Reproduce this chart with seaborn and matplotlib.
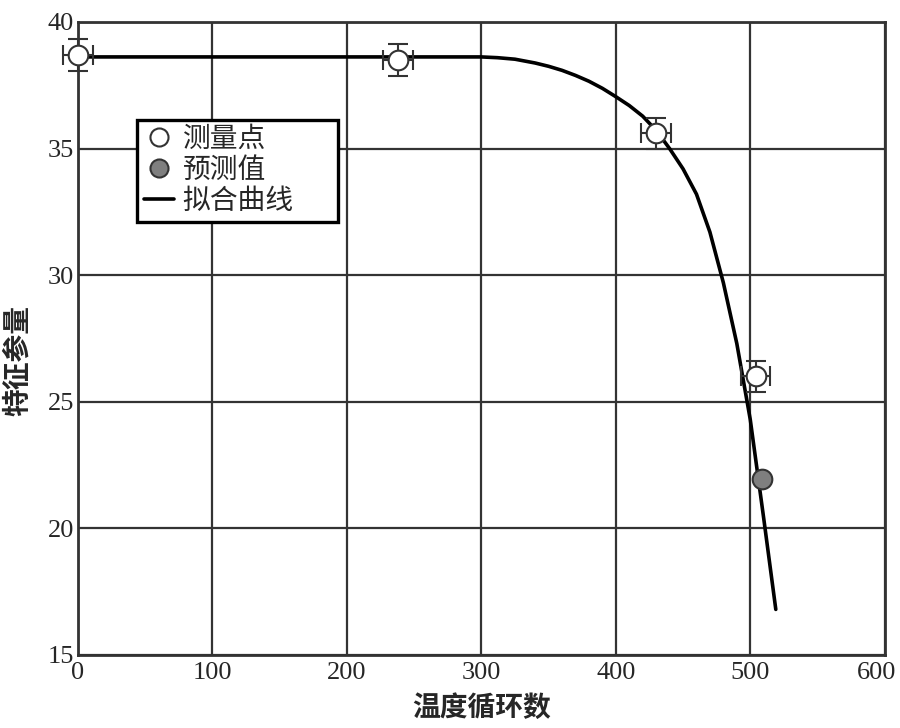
import numpy as np
import pandas as pd
import matplotlib
matplotlib.use("Agg")
import matplotlib.pyplot as plt
import matplotlib.transforms as mtransforms
import seaborn as sns
from matplotlib.lines import Line2D

# measured points
meas_x = [0, 238, 430, 504]
meas_y = [38.7, 38.5, 35.6, 26.0]
meas_xerr = [11, 11, 11, 11]
meas_yerr = [0.62, 0.62, 0.62, 0.62]

# predicted point
pred_x = [508.5]
pred_y = [21.95]

# fitted curve samples
fit_x = [0, 300, 312, 325, 340, 350, 360, 370, 380, 390, 400, 410, 420, 430, 440,
         450, 460, 470, 480, 490, 500, 510, 519]
fit_y = [38.62, 38.62, 38.59, 38.53, 38.38, 38.25, 38.09, 37.89, 37.66, 37.38, 37.05,
         36.7, 36.28, 35.72, 35.0, 34.2, 33.2, 31.7, 29.7, 27.3, 24.3, 20.4, 16.8]

xticks = [0, 100, 200, 300, 400, 500, 600]
yticks = [15, 20, 25, 30, 35, 40]

sns.set_theme(style="white")
plt.rcParams['font.family'] = ['Liberation Serif', 'Noto Sans CJK SC']
plt.rcParams['axes.unicode_minus'] = False

fig = plt.figure(figsize=(9, 7.28), dpi=100)
ax = fig.add_axes([0.0867, 0.1003, 0.8963, 0.8695])

fit_df = pd.DataFrame({"x": fit_x, "y": fit_y})
sns.lineplot(data=fit_df, x="x", y="y", ax=ax, color="black", linewidth=2.6,
             estimator=None, sort=False, zorder=3)

eb = ax.errorbar(meas_x, meas_y, xerr=meas_xerr, yerr=meas_yerr, fmt="none",
                 ecolor="#333333", elinewidth=1.5, capsize=7, capthick=1.5, zorder=4)
for part in eb.lines:
    for art in (part if isinstance(part, (tuple, list)) else [part]):
        if art is not None:
            art.set_clip_on(False)

meas_df = pd.DataFrame({"x": meas_x, "y": meas_y})
sns.scatterplot(data=meas_df, x="x", y="y", ax=ax, s=200, color="white",
                edgecolor="#333333", linewidth=1.5, zorder=5, clip_on=False)
pred_df = pd.DataFrame({"x": pred_x, "y": pred_y})
sns.scatterplot(data=pred_df, x="x", y="y", ax=ax, s=200, color="#7f7f7f",
                edgecolor="#333333", linewidth=1.5, zorder=5, clip_on=False)

ax.set_xlim(0, 600)
ax.set_ylim(15, 40)
ax.set_xticks(xticks)
ax.set_yticks(yticks)
ax.set_xticklabels([str(t) for t in xticks], fontsize=19)
ax.set_yticklabels([str(t) for t in yticks], fontsize=19)
ax.tick_params(axis="x", length=0, pad=5)
ax.tick_params(axis="y", length=0, pad=3)
# nudge last x tick label so it stays inside the figure
last = ax.get_xticklabels()[-1]
last.set_transform(last.get_transform() +
                   mtransforms.ScaledTranslation(-8 / 100, 0, fig.dpi_scale_trans))

ax.grid(True, color="#333333", linewidth=1.6)
ax.set_axisbelow(True)
for s in ax.spines.values():
    s.set_color("#333333")
    s.set_linewidth(2)

ax.set_xlabel("温度循环数", fontsize=20, fontweight="bold", labelpad=8)
ax.set_ylabel("特征参量", fontsize=20, fontweight="bold")
ax.yaxis.set_label_coords(-0.057, 0.466)

handles = [
    Line2D([], [], linestyle="none", marker="o", markersize=13,
           markerfacecolor="white", markeredgecolor="#333333", markeredgewidth=1.5),
    Line2D([], [], linestyle="none", marker="o", markersize=13,
           markerfacecolor="#7f7f7f", markeredgecolor="#333333", markeredgewidth=1.5),
    Line2D([], [], color="black", linewidth=2.6),
]
leg = ax.legend(handles, ["测量点", "预测值", "拟合曲线"], loc="upper left",
                bbox_to_anchor=(0.073, 0.845, 0.249, 0.0), mode="expand",
                fontsize=20, frameon=True,
                fancybox=False, handlelength=1.1, handletextpad=0.3,
                borderpad=0.25, labelspacing=0.2, borderaxespad=0)
leg.get_frame().set_edgecolor("black")
leg.get_frame().set_linewidth(2.4)
leg.get_frame().set_alpha(1)

fig.savefig("out.png", dpi=100)
